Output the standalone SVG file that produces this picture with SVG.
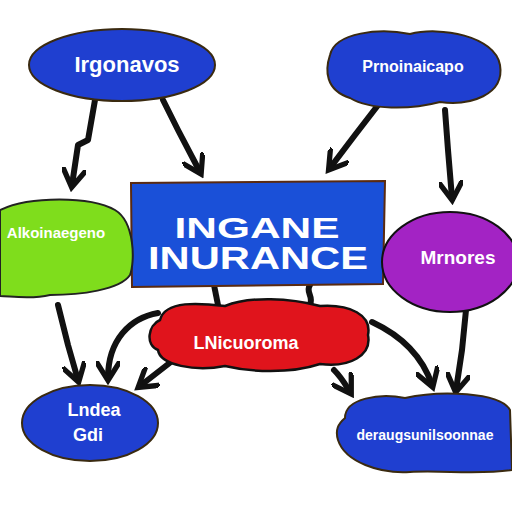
<svg xmlns="http://www.w3.org/2000/svg" width="512" height="512" viewBox="0 0 512 512">
<defs>
<style>
.lbl{font-family:"Liberation Sans",Arial,sans-serif;font-weight:bold;fill:#ffffff;text-anchor:middle}
.big{font-family:"Liberation Sans",Arial,sans-serif;font-weight:bold;fill:#ffffff;text-anchor:middle}
.edge{fill:none;stroke:#111111;stroke-width:6;stroke-linecap:round;stroke-linejoin:round}
.blue{fill:#1f3fd0;stroke:#3a2a10;stroke-width:2}
</style>
<marker id="ah" viewBox="0 0 10 10" refX="7" refY="5" markerWidth="4" markerHeight="4" orient="auto">
<path d="M0,0 L8,5 L0,10" fill="none" stroke="#111" stroke-width="2.2" stroke-linecap="round"/>
</marker>
</defs>
<rect width="512" height="512" fill="#ffffff"/>
<g id="connectors">
<path class="edge" d="M95,100 L88,140 L78,145 L72,185" marker-end="url(#ah)"/>
<path class="edge" d="M163,100 L178,130 L200,172" marker-end="url(#ah)"/>
<path class="edge" d="M382,100 L355,135 L330,168" marker-end="url(#ah)"/>
<path class="edge" d="M445,110 L448,150 L452,198" marker-end="url(#ah)"/>
<path class="edge" d="M58,305 L68,345 L78,380" marker-end="url(#ah)"/>
<path class="edge" d="M158,313 C130,318 108,340 108,378" marker-end="url(#ah)"/>
<path class="edge" d="M214,285 L218,305"/>
<path class="edge" d="M310,285 C305,292 314,296 310,305"/>
<path class="edge" d="M176,358 L140,386" marker-end="url(#ah)"/>
<path class="edge" d="M334,370 C342,378 345,384 350,392" marker-end="url(#ah)"/>
<path class="edge" d="M372,322 C400,335 422,355 432,385" marker-end="url(#ah)"/>
<path class="edge" d="M466,310 L462,350 L456,390" marker-end="url(#ah)"/>
</g>
<g id="node-top-left">
<ellipse class="blue" cx="122" cy="65" rx="93" ry="36"/>
<text class="lbl" x="127" y="72" font-size="22">Irgonavos</text>
</g>
<g id="node-top-right">
<path class="blue" d="M330,55 C335,32 380,28 410,34 C440,26 495,36 500,65 C505,95 470,106 440,102 C410,110 370,110 350,98 C325,90 325,70 330,55 Z"/>
<text class="lbl" x="413" y="72" font-size="16">Prnoinaicapo</text>
</g>
<g id="node-center">
<path d="M131,183 L385,181 L383,284 L132,287 Z" fill="#1a50d8" stroke="#5a2a10" stroke-width="2"/>
<text class="big" x="257" y="238" font-size="30" textLength="165" lengthAdjust="spacingAndGlyphs">INGANE</text>
<text class="big" x="258" y="269" font-size="31" textLength="220" lengthAdjust="spacingAndGlyphs">INURANCE</text>
</g>
<g id="node-left">
<path d="M0,210 C30,196 90,196 115,210 C135,222 135,262 130,275 C120,290 80,295 50,295 C30,300 10,296 0,296 Z" fill="#7fdd1c" stroke="#222" stroke-width="2"/>
<text class="lbl" x="56" y="238" font-size="15">Alkoinaegeno</text>
</g>
<g id="node-right">
<ellipse cx="450" cy="262" rx="68" ry="50" fill="#a323c4" stroke="#111" stroke-width="2"/>
<text class="lbl" x="458" y="264" font-size="19">Mrnores</text>
</g>
<g id="node-red">
<path d="M160,320 C165,300 200,303 225,306 C250,296 290,298 320,306 C350,304 372,315 368,335 C372,355 350,368 320,364 C290,374 250,372 225,366 C195,372 160,365 158,350 C145,345 148,325 160,320 Z" fill="#e0141c" stroke="#111" stroke-width="2.5"/>
<text class="lbl" x="246" y="349" font-size="18">LNicuoroma</text>
</g>
<g id="node-bottom-left">
<ellipse class="blue" cx="90" cy="423" rx="68" ry="38"/>
<text class="lbl" x="94" y="416" font-size="18">Lndea</text>
<text class="lbl" x="88" y="441" font-size="18">Gdi</text>
</g>
<g id="node-bottom-right">
<path class="blue" d="M345,418 C345,398 380,393 405,398 C440,390 500,392 510,410 L512,470 C480,475 440,470 410,472 C380,474 345,462 338,440 C335,430 338,424 345,418 Z"/>
<text class="lbl" x="425" y="440" font-size="14">deraugsunilsoonnae</text>
</g>
</svg>
